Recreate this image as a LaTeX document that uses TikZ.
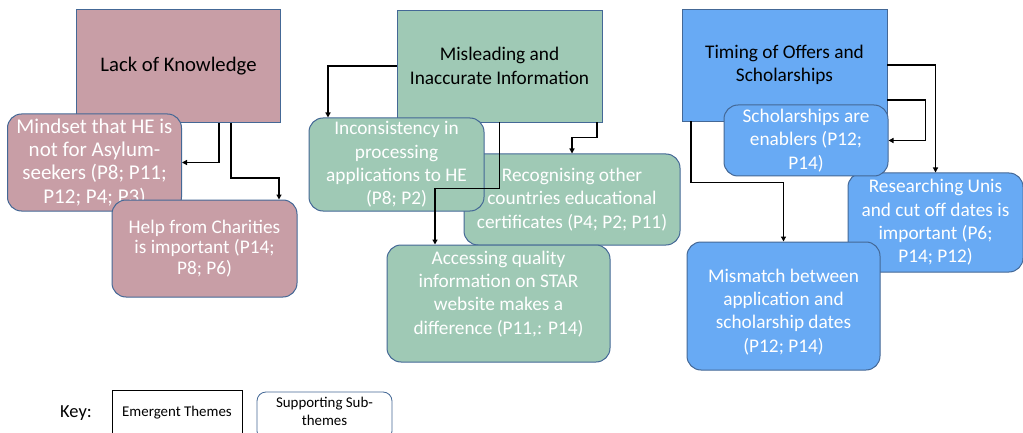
\documentclass[tikz,border=0pt]{standalone}
\usepackage{fontspec}
\setmainfont{Carlito}
\usetikzlibrary{arrows.meta}
\definecolor{pinkf}{RGB}{200,158,166}
\definecolor{greenf}{RGB}{159,201,181}
\definecolor{bluef}{RGB}{104,170,244}
\definecolor{bordc}{RGB}{68,104,150}
\tikzset{
  theme/.style={draw=bordc, line width=0.8pt, inner sep=0pt, align=center, text=black,
    font=\fontsize{19.3}{23.3}\selectfont},
  sub/.style={draw=bordc, line width=1pt, rounded corners=14pt, inner sep=0pt, align=center,
    text=white, font=\fontsize{19.3}{23.3}\selectfont},
  arr/.style={draw=black, line width=1.4pt, -{Triangle[length=5pt,width=5pt]}},
  sz/.style 2 args={minimum width=#1pt, minimum height=#2pt},
}
\begin{document}
\begin{tikzpicture}[x=1pt,y=-1pt]
\clip (0,0) rectangle (1023,433);
\fill[white] (0,0) rectangle (1023,433);

% Lack of Knowledge
\node[theme, fill=pinkf, sz={204}{113}, font=\fontsize{20.7}{25}\selectfont] (lack) at (178.5,66) {Lack of Knowledge};
\node[sub, fill=pinkf, sz={174}{97}, font=\fontsize{21}{23.3}\selectfont] (mind) at (94.5,162.5) {Mindset that HE is\\not for Asylum-\\seekers (P8; P11;\\P12; P4; P3)};
\node[sub, fill=pinkf, sz={185}{97}, font=\fontsize{19.3}{20.5}\selectfont] (help) at (204.5,248.5) {Help from Charities\\is important (P14;\\P8; P6)};

% Misleading
\node[theme, fill=greenf, sz={205}{112}] (mis) at (499.5,66) {Misleading and\\Inaccurate Information};
\node[sub, fill=greenf, sz={216}{91}] (recog) at (572,199.5) {Recognising other\\countries educational\\certificates (P4; P2; P11)};
\node[sub, fill=greenf, sz={175}{93}] (inc) at (396.5,164.5) {Inconsistency in\\processing\\applications to HE\\(P8; P2)};
\node[sub, fill=greenf, sz={223}{117}, text depth=22pt] (access) at (498.5,303.5) {Accessing quality\\information on STAR\\website makes a\\difference (P11,: P14)};

% Timing
\node[theme, fill=bluef, sz={205}{112}] (timing) at (784.5,65) {Timing of Offers and\\Scholarships};
\node[sub, fill=bluef, sz={175}{99}] (research) at (935.5,222.5) {Researching Unis\\and cut off dates is\\important (P6;\\P14; P12)};
\node[sub, fill=bluef, sz={164}{71}] (schol) at (806,140.5) {Scholarships are\\enablers (P12;\\P14)};
\node[sub, fill=bluef, sz={193}{128}, text height=95pt] (mismatch) at (783.5,306) {Mismatch between\\application and\\scholarship dates\\(P12; P14)};

% connectors
\draw[arr] ([xshift=40.5pt]lack.south) |- (mind.east);
\draw[arr] ([xshift=52.5pt]lack.south) -- ++(0,55) -| ([xshift=74.5pt]help.north);

\draw[arr] (mis.west) -| ([xshift=-68.5pt]inc.north);
\draw[arr] ([xshift=97.5pt]mis.south) -- ++(0,15) -| (recog.north);
\draw[arr] (mis.south) -- ++(0,66) -| ([xshift=-63.5pt]access.north);

\draw[arr] (timing.east) -| (research.north);
\draw[arr] ([yshift=-35pt]timing.east) -- ++(38,0) |- (schol.east);
\draw[arr] ([xshift=-93.5pt]timing.south) -- ++(0,61) -| (mismatch.north);

% key
\node[font=\fontsize{18.4}{22}\selectfont, anchor=center] (keylbl) at (76,413) {Key:};
\node[draw=black, line width=0.8pt, minimum width=130pt, minimum height=50pt, inner sep=0pt,
  font=\fontsize{14.9}{18}\selectfont, text depth=8pt] (keyemg) at (177,415) {Emergent Themes};
\node[draw=bordc, line width=0.8pt, rounded corners=9pt, minimum width=135pt, minimum height=48pt, inner sep=0pt,
  align=center, font=\fontsize{14.9}{18}\selectfont, text depth=9pt] (keysub) at (324.5,416) {Supporting Sub-\\themes};
\end{tikzpicture}
\end{document}
